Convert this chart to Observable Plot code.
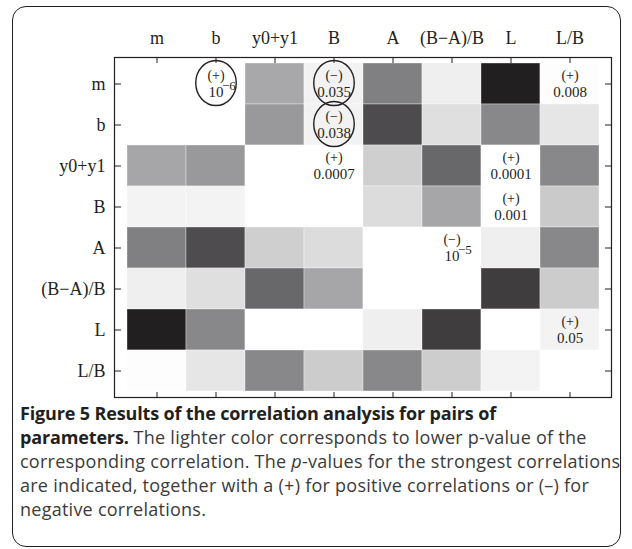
<!DOCTYPE html>
<html><head><meta charset="utf-8">
<script src="https://cdn.jsdelivr.net/npm/d3@7"></script>
<script src="https://cdn.jsdelivr.net/npm/@observablehq/plot@0.6"></script>
<style>
body{margin:0;background:#fff;}
#wrap{position:relative;width:632px;height:549px;overflow:hidden;background:#fff;}
#box{position:absolute;left:12px;top:6px;width:609px;height:541px;border:1.5px solid #231f20;border-radius:14px;box-sizing:border-box;}
#chart{position:absolute;left:0;top:0;}
#cap{position:absolute;left:20px;top:401px;font-family:'Open Sans',sans-serif;font-size:18px;line-height:24px;letter-spacing:0.25px;color:#3b3b3b;white-space:nowrap;}
#cap b{color:#231f20;letter-spacing:-0.15px;}
</style></head><body>
<div id="wrap"><div id="box"></div><div id="chart"></div>
<div id="cap"><b>Figure 5 Results of the correlation analysis for pairs of<br>parameters.</b> The lighter color corresponds to lower p-value of the<br>corresponding correlation. The <i>p</i>-values for the strongest correlations<br>are indicated, together with a (+) for positive correlations or (–) for<br>negative correlations.</div></div>
<script>
// parameters (rows and columns)
const params = ["m", "b", "y0+y1", "B", "A", "(B−A)/B", "L", "L/B"];
// gray level read from each cell (0 = black, 255 = white); lighter = lower p-value
const shadeM    = [255, 255, 168, 242, 128, 239,  33, 253];
const shadeb    = [255, 255, 153, 242,  76, 223, 136, 230];
const shadeY    = [166, 153, 255, 255, 207, 104, 255, 136];
const shadeB    = [243, 243, 255, 255, 220, 166, 255, 202];
const shadeA    = [128,  77, 207, 220, 255, 255, 239, 136];
const shadeBAB  = [239, 223, 104, 166, 255, 255,  62, 204];
const shadeL    = [ 33, 136, 255, 255, 239,  62, 255, 243];
const shadeLB   = [253, 230, 136, 204, 136, 205, 243, 255];
const shade = [shadeM, shadeb, shadeY, shadeB, shadeA, shadeBAB, shadeL, shadeLB];

// annotated correlations
const annRow     = ["m", "m", "b", "y0+y1", "m", "y0+y1", "B", "A", "L"];
const annCol     = ["b", "B", "B", "B", "L/B", "L", "L", "(B−A)/B", "L/B"];
const annSign    = ["(+)", "(−)", "(−)", "(+)", "(+)", "(+)", "(+)", "(−)", "(+)"];
const annBase    = ["10", "0.035", "0.038", "0.0007", "0.008", "0.0001", "0.001", "10", "0.05"];
const annExp     = ["−6", "", "", "", "", "", "", "−5", ""];
const annCircled = [true, true, true, false, false, false, false, false, false];

const cells = [];
params.forEach((r, i) => params.forEach((c, j) => cells.push({row: r, col: c, v: shade[i][j]})));
const ann = annRow.map((r, i) => ({row: r, col: annCol[i], sign: annSign[i], base: annBase[i], exp: annExp[i], circled: annCircled[i]}));

const ellipse = {
  draw(ctx, size) {
    const r = Math.sqrt(size / Math.PI), rx = r * 0.9, ry = r, k = 0.5523;
    ctx.moveTo(rx, 0);
    ctx.bezierCurveTo(rx, ry * k, rx * k, ry, 0, ry);
    ctx.bezierCurveTo(-rx * k, ry, -rx, ry * k, -rx, 0);
    ctx.bezierCurveTo(-rx, -ry * k, -rx * k, -ry, 0, -ry);
    ctx.bezierCurveTo(rx * k, -ry, rx, -ry * k, rx, 0);
    ctx.closePath();
  }
};

const chart = Plot.plot({
  width: 632, height: 400,
  marginLeft: 114, marginRight: 21, marginTop: 57, marginBottom: 3,
  x: {domain: params, paddingInner: 0, paddingOuter: 0.16, label: null},
  y: {domain: params, paddingInner: 0, paddingOuter: 0.12, label: null},
  color: {type: "linear", domain: [33, 128, 255], range: ["#221f20", "#808083", "#ffffff"]},
  style: {fontFamily: "'Liberation Serif', serif", fontSize: "18px", color: "#231f20", background: "transparent"},
  marks: [
    Plot.cell(cells, {x: "col", y: "row", fill: "v", inset: 0, stroke: "#fff", strokeOpacity: 0.35}),
    Plot.frame({stroke: "#231f20", strokeWidth: 1.2}),
    Plot.axisX({anchor: "top", tickSize: -5, tickPadding: 19, fontSize: 18, label: null}),
    Plot.axisX({anchor: "bottom", tickSize: -5, tickFormat: () => "", label: null}),
    Plot.axisY({anchor: "left", tickSize: -7, tickPadding: 16, fontSize: 18, label: null}),
    Plot.axisY({anchor: "right", tickSize: -7, tickFormat: () => "", label: null}),
    Plot.dot(ann.filter(d => d.circled), {x: "col", y: "row", symbol: ellipse, r: 22.5, dy: -1, stroke: "#231f20", strokeWidth: 1.4, fill: "none"}),
    Plot.text(ann, {x: "col", y: "row", text: "sign", dy: -8, fontSize: 14}),
    Plot.text(ann, {x: "col", y: "row", text: "base", dy: 8, fontSize: 15}),
    Plot.text(ann.filter(d => d.exp), {x: "col", y: "row", text: "exp", dx: 6, dy: 2, textAnchor: "start", fontSize: 13})
  ]
});
document.getElementById("chart").appendChild(chart);
</script>
</body></html>
